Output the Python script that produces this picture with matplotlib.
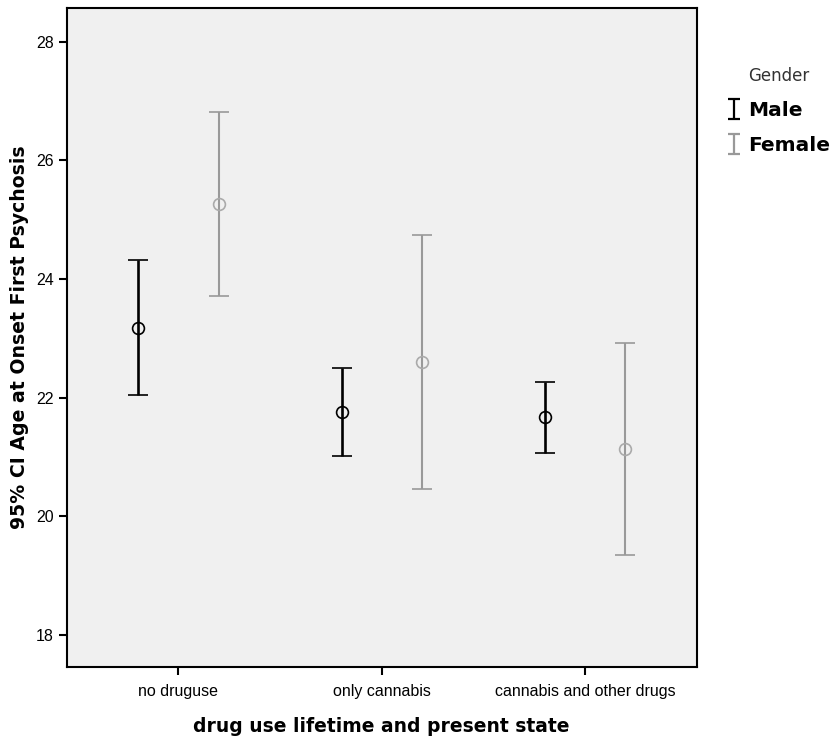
import matplotlib
matplotlib.use('Agg')
import matplotlib.pyplot as plt
import numpy as np
from matplotlib.path import Path
from matplotlib.lines import Line2D

# data
categories = ['no druguse', 'only cannabis', 'cannabis and other drugs']
male_mean = [23.18, 21.76, 21.67]
male_low = [22.05, 21.01, 21.07]
male_high = [24.32, 22.50, 22.26]
female_mean = [25.27, 22.61, 21.14]
female_low = [23.72, 20.46, 19.35]
female_high = [26.81, 24.75, 22.93]

plt.rcParams['font.family'] = ['Liberation Sans', 'DejaVu Sans']

fig = plt.figure(figsize=(8.38, 7.4), dpi=100)
ax = fig.add_axes([0.0796, 0.0986, 0.7518, 0.8906])
ax.set_facecolor('#f0f0f0')

x = np.arange(len(categories))
off = 0.197

m = np.array(male_mean)
ax.errorbar(x - off, m, yerr=[m - np.array(male_low), np.array(male_high) - m],
            fmt='o', color='black', mfc='none', mec='black', ms=8.5, mew=1.2,
            elinewidth=1.9, capsize=7.5, capthick=1.9)

f = np.array(female_mean)
ax.errorbar(x + off, f, yerr=[f - np.array(female_low), np.array(female_high) - f],
            fmt='o', color='#999999', mfc='none', mec='#aaaaaa', ms=8.5, mew=1.2,
            elinewidth=1.5, capsize=7.5, capthick=1.5)

ax.set_xlim(-0.55, 2.55)
ax.set_ylim(17.46, 28.57)
ax.set_xticks(x)
ax.set_xticklabels(categories, fontsize=11.5)
ax.set_yticks([18, 20, 22, 24, 26, 28])
ax.tick_params(axis='y', labelsize=11.5, length=6, width=1.5, direction='out')
ax.tick_params(axis='x', length=6, width=1.5, direction='out', pad=6)

for s in ax.spines.values():
    s.set_linewidth(1.5)

ax.set_xlabel('drug use lifetime and present state', fontsize=13.5, fontweight='bold',
              family='DejaVu Sans', labelpad=13)
ax.set_ylabel('95% CI Age at Onset First Psychosis', fontsize=13.6, fontweight='bold',
              family='DejaVu Sans', labelpad=5)

# legend with I-beam icons
ibeam = Path([(-0.6, -1), (0.6, -1), (0, -1), (0, 1), (-0.6, 1), (0.6, 1)],
             [Path.MOVETO, Path.LINETO, Path.MOVETO, Path.LINETO, Path.MOVETO, Path.LINETO])
h_male = Line2D([], [], linestyle='none', marker=ibeam, ms=14, mec='black', mew=1.6)
h_female = Line2D([], [], linestyle='none', marker=ibeam, ms=14, mec='#999999', mew=1.6)
leg = fig.legend([h_male, h_female], ['Male', 'Female'], title='Gender',
                 loc='upper left', bbox_to_anchor=(0.845, 0.934), frameon=False,
                 prop={'size': 14.5, 'family': 'DejaVu Sans', 'weight': 'bold'},
                 title_fontsize=12, handlelength=0.8, handletextpad=0.3,
                 labelspacing=0.8)
leg.get_title().set_color('#333333')
leg.get_title().set_family('DejaVu Sans')

fig.savefig('out.png', dpi=100)
